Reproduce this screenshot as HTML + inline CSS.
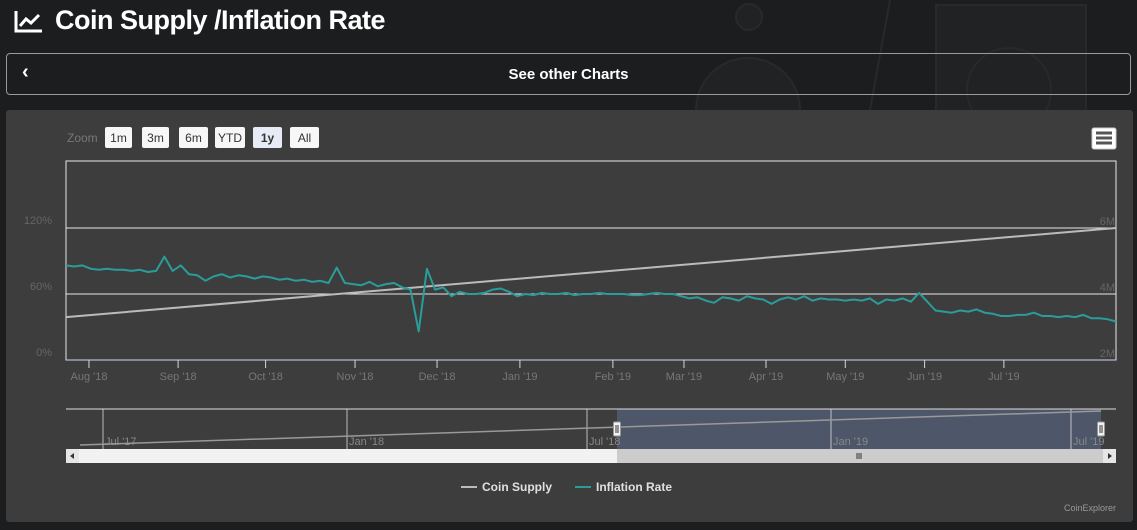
<!DOCTYPE html>
<html><head><meta charset="utf-8"><style>
body{margin:0;width:1137px;height:530px;background:#1c1d1f;font-family:"Liberation Sans",sans-serif;overflow:hidden;position:relative}
#title{position:absolute;left:55px;top:5px;color:#fff;font-size:27px;font-weight:bold;letter-spacing:-0.5px}
#back{position:absolute;left:6px;top:53px;width:1125px;height:42px;border:1px solid #9a9a9a;border-radius:4px;box-sizing:border-box}
#panel{position:absolute;left:6px;top:110px;width:1127px;height:412px;background:#3d3d3d;border-radius:3px}
</style></head><body>
<svg width="1137" height="110" style="position:absolute;left:0;top:0">
<g fill="#212224" stroke="#28292b" stroke-width="2">
<circle cx="748" cy="110" r="52"/><circle cx="749" cy="17" r="13"/>
<rect x="936" y="5" width="150" height="110"/><circle cx="1009" cy="90" r="42"/>
<path d="M890 0 L870 110" fill="none"/>
</g></svg>
<svg width="30" height="26" style="position:absolute;left:14px;top:9px">
<path d="M2 2 V22 H28" stroke="#fff" stroke-width="3" fill="none"/><path d="M6 17 L12 10 L17 14 L25 6" stroke="#fff" stroke-width="3" fill="none"/></svg>
<div id="title">Coin Supply /Inflation Rate</div>
<div id="back">
<span style="position:absolute;left:15px;top:7px;color:#fff;font-size:20px;font-weight:bold">‹</span>
<span style="position:absolute;left:0;right:0;top:12px;text-align:center;color:#fff;font-size:15px;font-weight:bold">See other Charts</span></div>
<div id="panel"></div>
<svg id="chart" width="1137" height="530" style="position:absolute;left:0;top:0" font-family="Liberation Sans, sans-serif"></svg>
<script>
const rateValues=[86,85,86,83,82,83,82,82,81,82,80,81,94,81,86,78,
77,72,76,78,75,77,76,74,76,75,73,74,72,73,71,72,70,84,
70,69,68,71,67,69,70,66,64,26,83,64,66,58,62,60,60,61,64,65,62,58,60,59,61,60,60,61,59,60,60,61,60,60,60,59,59,
60,61,60,60,58,56,57,54,52,57,56,54,58,56,
55,51,55,57,55,58,54,56,55,55,54,55,54,56,51,55,54,56,53,61,
53,45,44,43,45,44,46,43,42,40,40,41,41,43,40,40,39,40,39,41,38,38,37,35];
const rateStepDays=3;
const supplyStart=3.3, supplyEnd=6.0; // millions
const xTickLabels=["Aug '18","Sep '18","Oct '18","Nov '18","Dec '18","Jan '19","Feb '19","Mar '19","Apr '19","May '19","Jun '19","Jul '19"];
const xTickDays=[8.4,41,73,105.7,135.7,166,200,226,256,285,314,343];
const leftTicks=[0,60,120];
const rightTicks=[2,4,6];
const navLabels=["Jul '17","Jan '18","Jul '18","Jan '19","Jul '19"];

const NS="http://www.w3.org/2000/svg";
const svg=document.getElementById('chart');
function mk(t,a,txt){const e=document.createElementNS(NS,t);for(const k in a)e.setAttribute(k,a[k]);if(txt!=null)e.textContent=txt;svg.appendChild(e);return e;}
const X0=66,X1=1116,Y0=360,totalDays=384;
const xs=d=>X0+d*(X1-X0)/totalDays;
const yl=v=>Y0-v*66/60;
const yr=v=>Y0-(v-2)*33;

let z=mk('text',{x:67,y:142,fill:'#777',"font-size":12},'Zoom');

const btns=[["1m",105,30],["3m",142,30],["6m",179,32],["YTD",215,33],["1y",253,32],["All",290,32]];
btns.forEach(b=>{const r=mk('rect',{x:b[1],y:127,width:b[2]-3,height:21,rx:2,fill:b[0]=="1y"?"#e6ebf5":"#f7f7f7"});

const t=mk('text',{x:b[1]+(b[2]-3)/2,y:142,"text-anchor":"middle","font-size":12,fill:'#333',"font-weight":b[0]=="1y"?"bold":"normal"},b[0]);
});
let m=mk('rect',{x:1092,y:128,width:24,height:21,rx:2,fill:'#fff',stroke:'#ccc'});

[133,138,143].forEach(y=>mk('rect',{x:1096,y:y-1.5,width:16,height:3,fill:'#555'}));

let f=mk('rect',{x:X0,y:161,width:X1-X0,height:Y0-161,fill:'none',stroke:'#e6e6e6'});

leftTicks.forEach(v=>{if(v>0){const g=mk('line',{x1:X0,x2:X1,y1:yl(v),y2:yl(v),stroke:'#e6e6e6'});}
const t=mk('text',{x:52,y:yl(v)-4,"text-anchor":"end","font-size":11,fill:'#666'},v+'%');});
rightTicks.forEach(v=>{const t=mk('text',{x:1115,y:yr(v)-3,"text-anchor":"end","font-size":11,fill:'#666'},v+'M');});
mk('line',{x1:X0,x2:X1,y1:Y0,y2:Y0,stroke:'#ccd6eb'});
xTickLabels.forEach((l,i)=>{const x=xs(xTickDays[i]);mk('line',{x1:x,x2:x,y1:Y0,y2:Y0+8,stroke:'#ccd6eb'});
const t=mk('text',{x:x,y:380,"text-anchor":"middle","font-size":11,fill:'#777'},l);});
let s=mk('line',{x1:xs(0),y1:yr(supplyStart),x2:xs(totalDays),y2:yr(supplyEnd),stroke:'#bbb',"stroke-width":2});

let d=rateValues.map((v,i)=>(i?'L':'M')+xs(i*rateStepDays).toFixed(1)+' '+yl(v).toFixed(1)).join(' ');
let rl=mk('path',{d:d,fill:'none',stroke:'#2a9d9a',"stroke-width":2,"stroke-linejoin":"round"});


let nb=mk('rect',{x:617,y:409,width:484,height:40,fill:'#4e566a'});
mk('line',{x1:66,x2:1116,y1:409,y2:409,stroke:'#ddd'});
[103,347,587,831,1071].forEach((x,i)=>{mk('line',{x1:x,x2:x,y1:409,y2:449,stroke:'#ddd',"stroke-width":0.8});
const t=mk('text',{x:x+2,y:445,"font-size":11,fill:'#888'},navLabels[i]);});
let nl=mk('line',{x1:80,y1:445,x2:1101,y2:411,stroke:'#999',"stroke-width":1.5});
[617,1101].forEach(x=>{const h=mk('rect',{x:x-3.5,y:422,width:7,height:14,rx:1,fill:'#f2f2f2',stroke:'#999'});
mk('line',{x1:x-1,x2:x-1,y1:425,y2:433,stroke:'#333'});mk('line',{x1:x+1,x2:x+1,y1:425,y2:433,stroke:'#333'});});
let sc=mk('rect',{x:66,y:449,width:1050,height:14,fill:'#f2f2f2'});
let th=mk('rect',{x:617,y:449,width:486,height:14,fill:'#cccccc'});
[857,859,861].forEach(x=>mk('line',{x1:x,x2:x,y1:453,y2:459,stroke:'#333'}));
mk('rect',{x:66,y:449,width:13,height:14,fill:'#e6e6e6'});mk('rect',{x:1103,y:449,width:13,height:14,fill:'#e6e6e6'});
mk('path',{d:'M74 453 L70 456 L74 459Z',fill:'#333'});mk('path',{d:'M1108 453 L1112 456 L1108 459Z',fill:'#333'});

let g1=mk('line',{x1:461,x2:477,y1:487,y2:487,stroke:'#bbb',"stroke-width":2});
let t1=mk('text',{x:482,y:491,"font-size":12,"font-weight":"bold",fill:'#e0e0e0'},'Coin Supply');
let g2=mk('line',{x1:575,x2:591,y1:487,y2:487,stroke:'#2a9d9a',"stroke-width":2});
let t2=mk('text',{x:596,y:491,"font-size":12,"font-weight":"bold",fill:'#e0e0e0'},'Inflation Rate');
let cr=mk('text',{x:1116,y:511,"text-anchor":"end","font-size":9,fill:'#999'},'CoinExplorer');
</script>
</body></html>
